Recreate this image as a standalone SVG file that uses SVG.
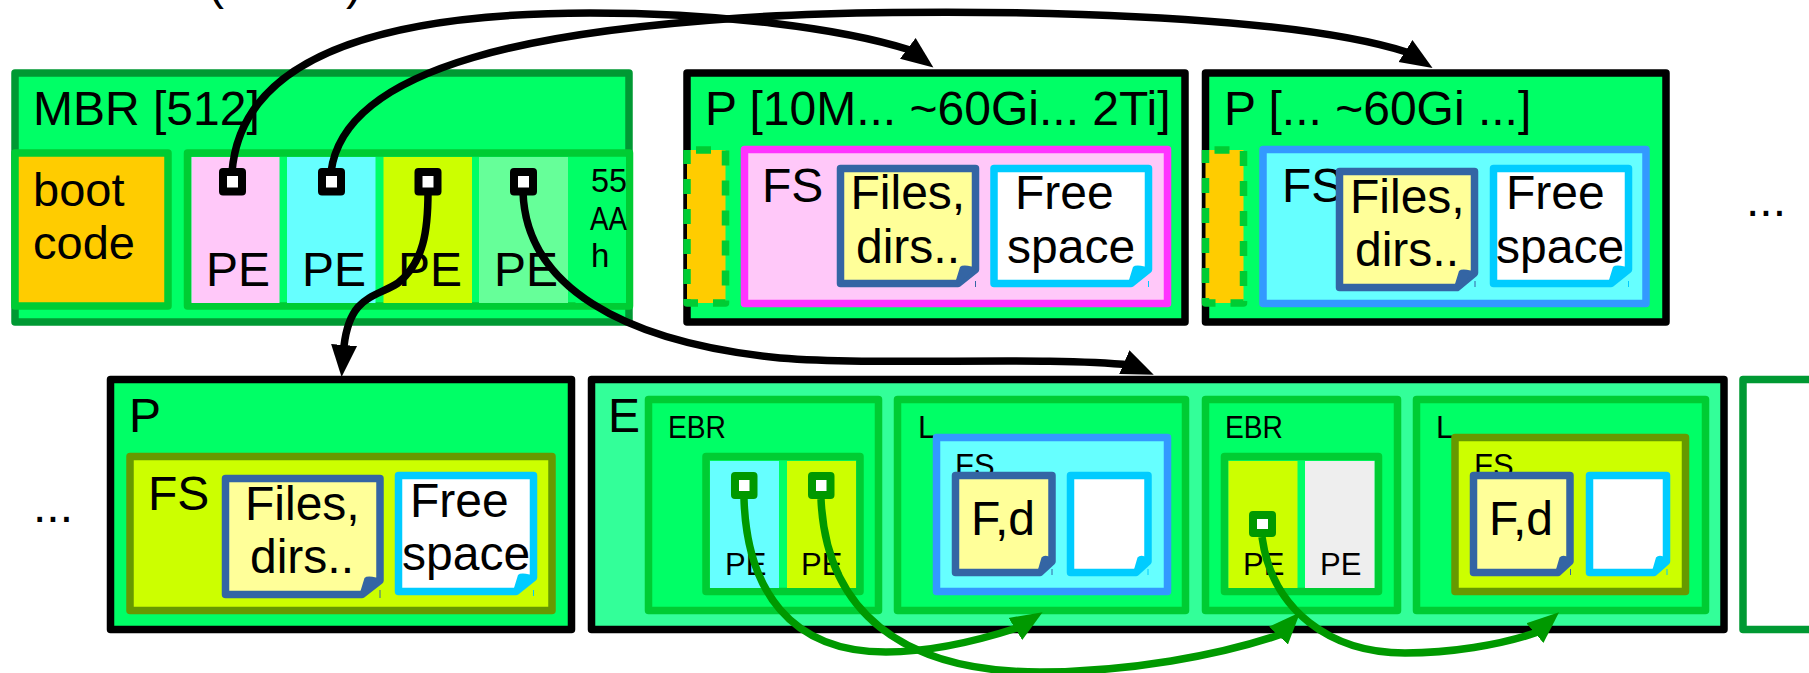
<svg xmlns="http://www.w3.org/2000/svg" width="1809" height="673" viewBox="0 0 1809 673">
<style>
text{font-family:"Liberation Sans",Arial,sans-serif;font-size:48px;fill:#000}
.sm{font-size:31px}
.hx{font-size:33px}
rect{stroke-width:7.5;stroke-linejoin:round}
.mbr{fill:#00ff66;stroke:#009933}
.blk{fill:#00ff66;stroke:#000}
.ext{fill:#33ff99;stroke:#000}
.in{fill:#00ff66;stroke:#00cc33}
.boot{fill:#ffcc00;stroke:#00cc33}
.dash{fill:#ffcc00;stroke:#00cc33;stroke-dasharray:15 15;stroke-dashoffset:21}
.fsp{fill:#ffc8f9;stroke:#ff33ff}
.fsc{fill:#66ffff;stroke:#3399ff}
.fsl{fill:#ccff00;stroke:#669900}
.cell{stroke:none}
.nf{fill:#ffff99;stroke:#3465a4;stroke-width:7.5;stroke-linejoin:round}
.nw{fill:#fff;stroke:#00ccff;stroke-width:7.5;stroke-linejoin:round}
.ff{fill:#3465a4}.fw{fill:#00ccff}
.tf{stroke:#3465a4;stroke-width:1}.tw{stroke:#00ccff;stroke-width:1}
.pb{fill:#fff;stroke:#000;stroke-width:8}
.pg{fill:#fff;stroke:#009900;stroke-width:8}
.cb{fill:none;stroke:#000;stroke-width:7.5}
.cg{fill:none;stroke:#009900;stroke-width:7.5}
</style>
<defs>
<marker id="ab" markerUnits="userSpaceOnUse" markerWidth="34" markerHeight="30" refX="20" refY="15" orient="auto"><path d="M0,2 L32,15 L0,28 z" fill="#000"/></marker>
<marker id="ag" markerUnits="userSpaceOnUse" markerWidth="34" markerHeight="30" refX="20" refY="15" orient="auto"><path d="M0,2 L32,15 L0,28 z" fill="#009900"/></marker>
<path id="fold" d="M-17.500,0 L-19.500,-3.500 L-15.500,-16.500 Q-13,-19 -4,-17 L0,-17 V-14 Z"/>
<path id="foldS" d="M-12,0 L-14,-3 L-10.500,-15 Q-8,-18 -3,-16 L0,-16 V-11 Z"/>
</defs>
<text id="top-label" x="208" y="-1">(</text><text x="346" y="-1">)</text>
<g id="mbr">
<rect class="mbr" x="15" y="73" width="614" height="249"/>
<text x="33" y="125">MBR [512]</text>
<rect class="boot" x="15" y="153" width="153" height="153"/>
<text x="33" y="206" style="font-size:47px">boot</text><text x="33" y="259" style="font-size:47px">code</text>
<rect class="in" x="187.500" y="153" width="442" height="153"/>
<rect class="cell" fill="#ffc8f9" x="191.500" y="157" width="88" height="146"/>
<rect class="cell" fill="#66ffff" x="287" y="157" width="88.500" height="146"/>
<rect class="cell" fill="#ccff00" x="383.500" y="157" width="88.500" height="146"/>
<rect class="cell" fill="#66ff99" x="479" y="157" width="89" height="146"/>
<rect class="cell" fill="#00ff66" x="575.500" y="157" width="50.500" height="146"/>
<text x="206" y="286">PE</text><text x="302" y="286">PE</text><text x="398" y="286">PE</text><text x="494" y="286">PE</text>
<text class="hx" x="591" y="192" textLength="36" lengthAdjust="spacingAndGlyphs">55</text><text class="hx" x="590" y="230" textLength="37" lengthAdjust="spacingAndGlyphs">AA</text><text class="hx" x="591" y="267">h</text>
<rect class="pb" x="223" y="172" width="19" height="19.500"/><rect class="pb" x="322" y="172" width="19" height="19.500"/><rect class="pb" x="418.500" y="172" width="19" height="19.500"/><rect class="pb" x="514" y="172" width="19" height="19.500"/>
</g>
<g id="p1">
<rect class="blk" x="687" y="73" width="498" height="249"/>
<text x="705" y="125">P [10M... ~60Gi... 2Ti]</text>
<rect class="dash" x="687" y="150" width="38.500" height="153"/>
<rect class="fsp" x="744.500" y="149.500" width="423" height="154"/>
<text x="762" y="202">FS</text>
<path class="nf" d="M840.500,168.500H975.500V269.500L958,283.500H840.500Z"/><use href="#fold" class="ff" x="975.500" y="283.500"/>
<path class="nw" d="M994,168.500H1148.500V269.500L1131,283.500H994Z"/><use href="#fold" class="fw" x="1148.500" y="283.500"/>
<path class="tf" d="M975.500,281V287"/><path class="tw" d="M1148.500,281V287"/>
<text x="850.500" y="209">Files,</text><text x="856" y="263">dirs..</text><text x="1015" y="209">Free</text><text x="1007" y="263">space</text>
</g>
<g id="p2">
<rect class="blk" x="1205.500" y="73" width="460.500" height="249"/>
<text x="1224" y="125">P [... ~60Gi ...]</text>
<rect class="dash" x="1205.500" y="150" width="38" height="153"/>
<rect class="fsc" x="1263" y="149.500" width="383" height="154"/>
<text x="1282" y="202">FS</text>
<path class="nf" d="M1339.500,171.500H1474.500V273L1457,287.500H1339.500Z"/><use href="#fold" class="ff" x="1474.500" y="287.500"/>
<path class="nw" d="M1493.500,168.500H1628.500V269.500L1611,283.500H1493.500Z"/><use href="#fold" class="fw" x="1628.500" y="283.500"/>
<path class="tf" d="M1475,281V287"/><path class="tw" d="M1628.500,281V287"/>
<text x="1350" y="213">Files,</text><text x="1355" y="266">dirs..</text><text x="1506" y="209">Free</text><text x="1496" y="263">space</text>
</g>
<text id="dots-right" x="1746" y="216">...</text>
<text id="dots-left" x="33" y="522">...</text>
<g id="p3">
<rect class="blk" x="110.500" y="379.500" width="461" height="250"/>
<text x="129" y="432">P</text>
<rect class="fsl" x="130" y="456.500" width="422" height="154"/>
<text x="148" y="510">FS</text>
<path class="nf" d="M225.500,478.500H380V580.500L362,594.500H225.500Z"/><use href="#fold" class="ff" x="380" y="594.500"/>
<path class="nw" d="M398.500,475.500H533.500V577.500L516,591.500H398.500Z"/><use href="#fold" class="fw" x="533.500" y="591.500"/>
<path class="tf" d="M380,590V598"/><path class="tw" d="M533.500,590V596"/>
<text x="245" y="520">Files,</text><text x="250" y="573">dirs..</text><text x="410" y="517">Free</text><text x="402" y="570">space</text>
</g>
<g id="ext">
<rect class="ext" x="591.500" y="379.500" width="1132.500" height="250"/>
<text x="608" y="432">E</text>
<g id="ebr1">
<rect class="in" x="648.500" y="399.500" width="230" height="211"/>
<text class="sm" x="668" y="438" textLength="58" lengthAdjust="spacingAndGlyphs">EBR</text>
<rect class="in" x="706" y="456.500" width="154" height="135"/>
<rect class="cell" fill="#66ffff" x="710" y="461" width="69" height="127"/>
<rect class="cell" fill="#ccff00" x="787" y="461" width="69" height="127"/>
<text class="sm" x="725" y="575">PE</text><text class="sm" x="801" y="575">PE</text>
<rect class="pg" x="735" y="476" width="18.500" height="19"/><rect class="pg" x="812" y="476" width="18.500" height="19"/>
</g>
<g id="l1">
<rect class="in" x="897.500" y="399.500" width="288" height="211"/>
<text class="sm" x="918" y="438">L</text>
<rect class="fsc" x="936.500" y="437.500" width="231" height="154"/>
<text class="sm" x="955" y="476">FS</text>
<path class="nf" d="M955.500,475.500H1052V561.500L1040,572.500H955.500Z"/><use href="#foldS" class="ff" x="1052" y="572.500"/>
<path class="nw" d="M1070.500,475.500H1148V561.500L1136,572.500H1070.500Z"/><use href="#foldS" class="fw" x="1148" y="572.500"/>
<path class="tf" d="M1052,569V575"/><path class="tw" d="M1148,569V575"/>
<text x="971" y="535">F,d</text>
</g>
<g id="ebr2">
<rect class="in" x="1205.500" y="399.500" width="192" height="211"/>
<text class="sm" x="1225" y="438" textLength="58" lengthAdjust="spacingAndGlyphs">EBR</text>
<rect class="in" x="1224.500" y="456.500" width="154" height="135"/>
<rect class="cell" fill="#ccff00" x="1228.500" y="461" width="69" height="127"/>
<rect class="cell" fill="#eeeeee" x="1305" y="461" width="69.500" height="127"/>
<text class="sm" x="1243" y="575">PE</text><text class="sm" x="1320" y="575">PE</text>
<rect class="pg" x="1253" y="515" width="19" height="18"/>
</g>
<g id="l2">
<rect class="in" x="1416.500" y="399.500" width="289" height="211"/>
<text class="sm" x="1436" y="438">L</text>
<rect class="fsl" x="1455" y="437.500" width="230.500" height="154"/>
<text class="sm" x="1474" y="476">FS</text>
<path class="nf" d="M1473.500,475.500H1570V561.500L1558,572.500H1473.500Z"/><use href="#foldS" class="ff" x="1570" y="572.500"/>
<path class="nw" d="M1589.500,475.500H1666.500V561.500L1654,572.500H1589.500Z"/><use href="#foldS" class="fw" x="1666.500" y="572.500"/>
<path class="tf" d="M1570.500,569V575"/><path class="tw" d="M1667,569V575"/>
<text x="1489" y="535">F,d</text>
</g>
</g>
<g id="next"><rect x="1743" y="379.500" width="100" height="250" fill="#fff" stroke="#009933"/></g>
<g id="connectors">
<path class="cb" marker-end="url(#ab)" d="M232,172C240,70 350,13 590,13C720,13 840,28 910,50L923.800,60.400"/>
<path class="cb" marker-end="url(#ab)" d="M331,172C345,60 560,30 740,18C900,7 1270,8 1408,52.500L1422.400,61.600"/>
<path class="cb" marker-end="url(#ab)" d="M428,192C428,230 424,262 398,283C375,298 350,295 344,346L342.500,365"/>
<path class="cb" marker-end="url(#ab)" d="M523,192C526,285 620,342 780,358C880,366 1040,356 1131,365L1142.700,370"/>
<path class="cg" marker-end="url(#ag)" d="M744,499C747,590 790,652 886,652C930,652 980,640 1017,628L1032.400,618.500"/>
<path class="cg" marker-end="url(#ag)" d="M821,499C826,610 900,672 1040,672C1130,672 1220,655 1279,635L1292,621"/>
<path class="cg" marker-end="url(#ag)" d="M1262,537C1272,610 1330,653 1405,653C1450,653 1500,645 1535,633L1550,620"/>
</g>
</svg>
